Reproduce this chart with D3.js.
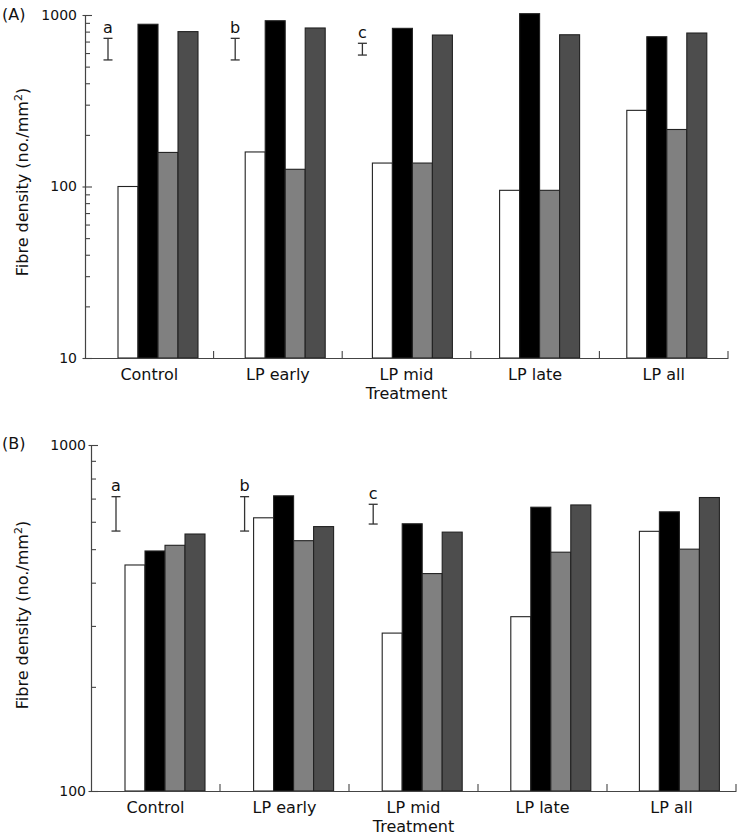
<!DOCTYPE html>
<html>
<head>
<meta charset="utf-8">
<script src="https://cdn.jsdelivr.net/npm/d3@7"></script>
<style>
  html, body { margin: 0; padding: 0; background: #fff; }
  svg { display: block; }
  text { font-family: "DejaVu Sans", sans-serif; fill: #111; }
</style>
</head>
<body>
<div id="chart"></div>
<script>
// ---------- data ----------
const categories = ["Control", "LP early", "LP mid", "LP late", "LP all"];
const seriesNames = ["s1", "s2", "s3", "s4"];
const seriesColors = ["#ffffff", "#000000", "#808080", "#4d4d4d"];

// Panel A values (fibre density, no./mm2)
const panelA_s1 = [100, 159, 137, 95, 278];
const panelA_s2 = [883, 926, 836, 1018, 747];
const panelA_s3 = [158, 126, 137, 95, 215];
const panelA_s4 = [800, 840, 764, 767, 785];

// Panel B values
const panelB_s1 = [450, 616, 286, 319, 563];
const panelB_s2 = [494, 713, 592, 661, 641];
const panelB_s3 = [513, 529, 425, 490, 500];
const panelB_s4 = [553, 581, 560, 671, 705];

// Error bars (low, high) labelled a, b, c
const errorLabels = ["a", "b", "c"];
const errorA_low = [547, 547, 584];
const errorA_high = [731, 731, 684];
const errorB_low = [564, 564, 591];
const errorB_high = [709, 709, 674];

const yMajorA = [10, 100, 1000];
const yMajorB = [100, 1000];

// ---------- drawing ----------
const W = 740, H = 840;
const svg = d3.select("#chart").append("svg").attr("width", W).attr("height", H);

function drawPanel(cfg) {
  const g = svg.append("g");
  const y = d3.scaleLog().domain(cfg.yDomain).range([cfg.yBottom, cfg.yTop]);
  const x = d3.scaleBand().domain(categories).range([cfg.xLeft, cfg.xRight]);
  const xb = d3.scaleBand().domain(categories).range(cfg.barRange);
  const xi = d3.scaleBand().domain(seriesNames).range([0, 80]);

  // minor + major ticks
  const ticks = [];
  for (let dec = cfg.yDomain[0]; dec < cfg.yDomain[1]; dec *= 10) {
    for (let k = 1; k < 10; k++) ticks.push(dec * k);
  }
  ticks.push(cfg.yDomain[1]);
  const majors = cfg.majors;

  // bars
  const rows = categories.map((c, i) => ({ c, vals: cfg.series.map(s => s[i]) }));
  const grp = g.selectAll("g.grp").data(rows).enter().append("g")
    .attr("transform", d => `translate(${xb(d.c)},0)`);
  grp.selectAll("rect").data(d => d.vals.map((v, j) => ({ v, j })))
    .enter().append("rect")
    .attr("x", d => xi(seriesNames[d.j]))
    .attr("width", xi.bandwidth())
    .attr("y", d => y(d.v))
    .attr("height", d => y(cfg.yDomain[0]) - y(d.v))
    .attr("fill", d => seriesColors[d.j])
    .attr("stroke", "#222")
    .attr("stroke-width", 1.1);

  // y axis
  const yAxis = d3.axisLeft(y).tickValues(ticks)
    .tickSizeInner(-5).tickSizeOuter(0).tickPadding(cfg.tickPad)
    .tickFormat(d => majors.includes(d) ? String(d) : "");
  const ya = g.append("g").attr("transform", `translate(${cfg.xLeft},0)`).call(yAxis);
  ya.select(".domain").attr("stroke", "#444").attr("stroke-width", 1.2);
  ya.selectAll(".tick line").attr("stroke", "#444").attr("stroke-width", 1.1);
  ya.selectAll(".tick").filter(d => majors.includes(d)).select("line")
    .attr("x1", -2.5).attr("x2", 7);
  ya.selectAll(".tick text").attr("font-family", "DejaVu Sans").attr("font-size", 14).attr("fill", "#111");

  // x axis
  const xAxis = d3.axisBottom(x).tickSize(0).tickSizeOuter(0).tickPadding(11);
  const xa = g.append("g").attr("transform", `translate(0,${cfg.yBottom})`).call(xAxis);
  xa.select(".domain").attr("stroke", "#444").attr("stroke-width", 1.2);
  xa.selectAll(".tick text").attr("font-family", "DejaVu Sans").attr("font-size", 16).attr("fill", "#111");
  // group separator ticks
  g.selectAll("line.sep").data(categories).enter().append("line")
    .attr("x1", d => x(d) + x.bandwidth()).attr("x2", d => x(d) + x.bandwidth())
    .attr("y1", cfg.yBottom).attr("y2", cfg.yBottom - 7)
    .attr("stroke", "#444").attr("stroke-width", 1.1);

  // x title
  g.append("text").attr("x", x("LP mid") + x.bandwidth() / 2).attr("y", cfg.yBottom + 41)
    .attr("text-anchor", "middle").attr("font-size", 16).text("Treatment");

  // y title
  const yt = g.append("text")
    .attr("transform", `translate(${cfg.yTitleX},${cfg.yTitleY}) rotate(-90)`)
    .attr("text-anchor", "middle").attr("font-size", 16);
  yt.append("tspan").text("Fibre density (no./mm");
  yt.append("tspan").attr("dy", -6).attr("font-size", 11).text("2");
  yt.append("tspan").attr("dy", 6).text(")");

  // panel label
  g.append("text").attr("x", 2).attr("y", cfg.labelY).attr("font-size", 16).text(cfg.label);

  // error bars
  const err = errorLabels.map((l, i) => ({ l, lo: cfg.errLow[i], hi: cfg.errHigh[i], c: categories[i] }));
  const eg = g.selectAll("g.err").data(err).enter().append("g")
    .attr("transform", d => `translate(${xb(d.c) + cfg.errOffset},0)`);
  eg.append("line").attr("x1", 0).attr("x2", 0)
    .attr("y1", d => y(d.lo)).attr("y2", d => y(d.hi))
    .attr("stroke", "#333").attr("stroke-width", 1.3);
  eg.append("line").attr("x1", -4.5).attr("x2", 4.5)
    .attr("y1", d => y(d.lo)).attr("y2", d => y(d.lo))
    .attr("stroke", "#333").attr("stroke-width", 1.3);
  eg.append("line").attr("x1", -4.5).attr("x2", 4.5)
    .attr("y1", d => y(d.hi)).attr("y2", d => y(d.hi))
    .attr("stroke", "#333").attr("stroke-width", 1.3);
  eg.append("text").attr("x", 0).attr("y", d => y(d.hi) - 5.5)
    .attr("text-anchor", "middle").attr("font-size", 16).text(d => d.l);
}

drawPanel({
  label: "(A)", labelY: 20,
  yDomain: [10, 1000], yTop: 15, yBottom: 358, majors: yMajorA,
  xLeft: 85, xRight: 728, barRange: [118, 754], tickPad: 8,
  series: [panelA_s1, panelA_s2, panelA_s3, panelA_s4],
  errLow: errorA_low, errHigh: errorA_high, errOffset: -10,
  yTitleX: 28, yTitleY: 182
});

drawPanel({
  label: "(B)", labelY: 449,
  yDomain: [100, 1000], yTop: 445, yBottom: 791, majors: yMajorB,
  xLeft: 91, xRight: 736, barRange: [125, 768], tickPad: 5,
  series: [panelB_s1, panelB_s2, panelB_s3, panelB_s4],
  errLow: errorB_low, errHigh: errorB_high, errOffset: -9,
  yTitleX: 28, yTitleY: 615
});
</script>
</body>
</html>
